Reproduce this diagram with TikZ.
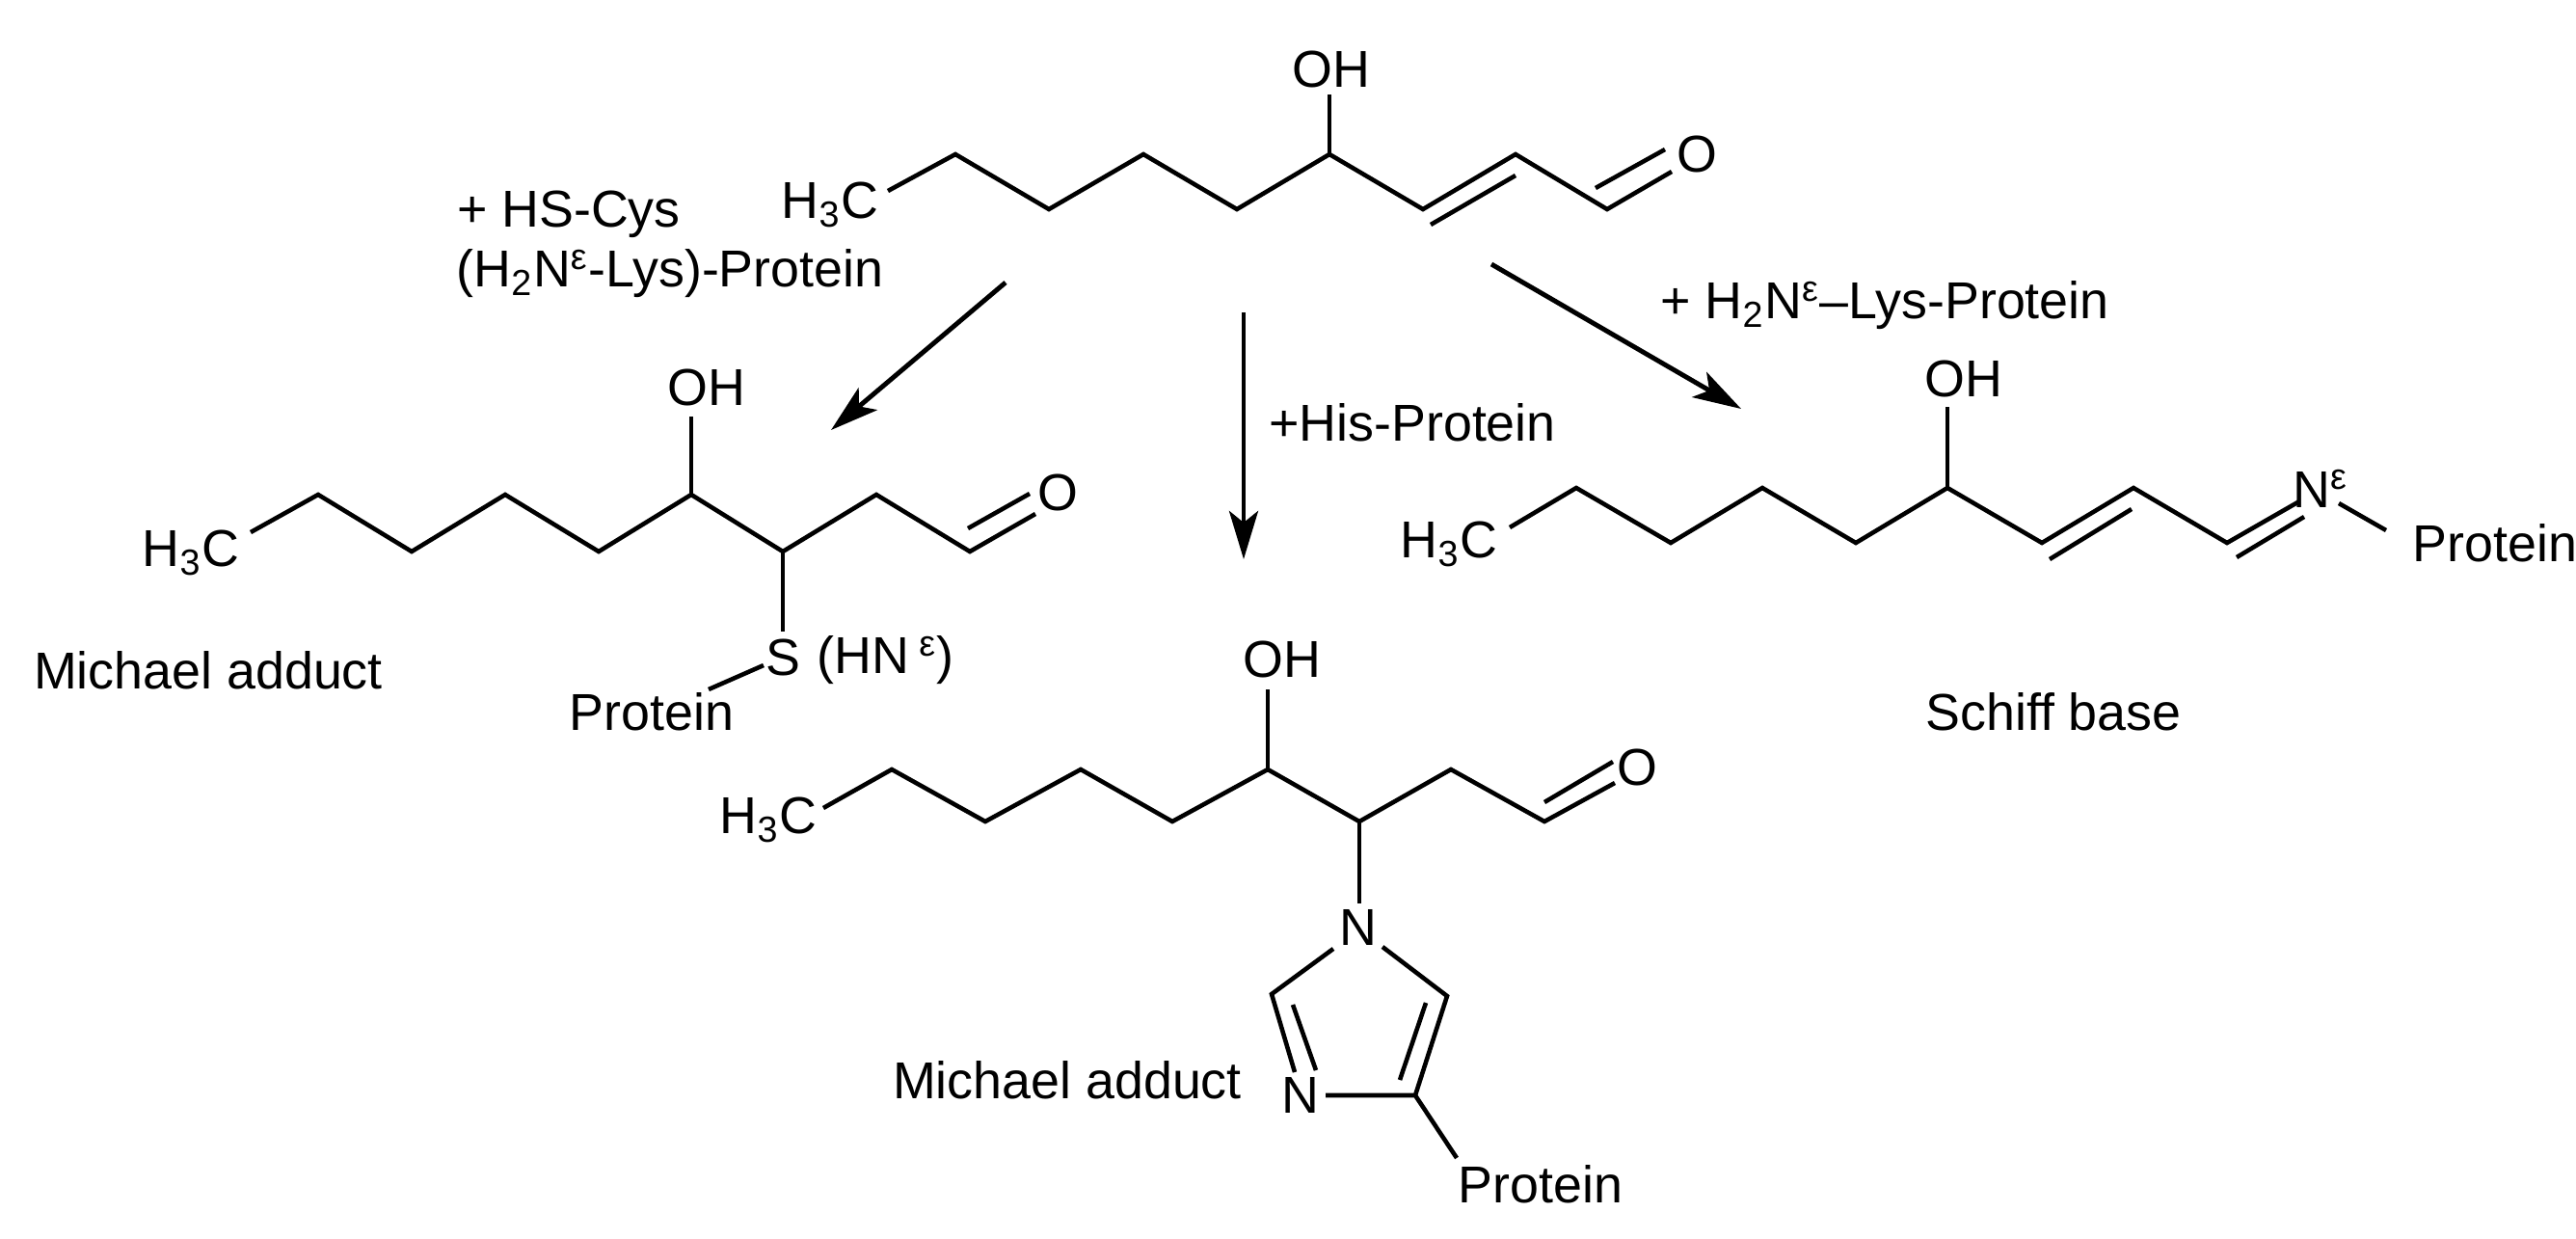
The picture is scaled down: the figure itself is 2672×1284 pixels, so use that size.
\documentclass[tikz,border=0pt]{standalone}
\usepackage{fontspec}
\setmainfont{Liberation Sans}
\usetikzlibrary{arrows.meta}
\begin{document}
\begin{tikzpicture}[x=0.01cm,y=-0.01cm,line width=1.3pt,line join=miter,
  lbl/.style={inner sep=0pt,font=\fontsize{15.3}{18}\selectfont},
  rxn/.style={line width=1.4pt,-{Stealth[length=0.5cm,width=0.3cm,inset=0.12cm]}}]
\useasboundingbox (0,0) rectangle (2672,1284);
% ===== top molecule (HNE)
\node[lbl] (t3) at (861,212) {H\textsubscript{3}C};
\node[lbl] (tOH) at (1381,72) {OH};
\node[lbl] (tO) at (1760,160) {O};
\draw (921,198) -- (991,160) -- (1088,217) -- (1186,160) -- (1283,217) -- (1379,160) -- (1476,217) -- (1572,160) -- (1667,217) -- (1734,178);
\draw (1379,160) -- (1379,98);
\draw (1572,182) -- (1484,233);
\draw (1655,195) -- (1727,155);
% ===== left product
\node[lbl] (l3) at (198,573) {H\textsubscript{3}C};
\node[lbl] (lOH) at (733,402) {OH};
\node[lbl] (lO) at (1097,511) {O};
\node[lbl] (lS) at (812,682) {S};
\node[lbl,anchor=west] (lHN) at (845,685) {(HN\textsuperscript{ ε})};
\node[lbl] (lP) at (676,738) {Protein};
\draw (260,552) -- (330,513) -- (427,572) -- (524,513) -- (621,572) -- (717,513) -- (812,572) -- (909,513) -- (1006,572) -- (1074,533);
\draw (1004,548) -- (1068,512);
\draw (717,513) -- (717,432);
\draw (812,572) -- (812,655);
\draw (735,715) -- (792,690);
\node[lbl] (lM) at (216,695) {Michael adduct};
% ===== middle product
\node[lbl] (m3) at (797,850) {H\textsubscript{3}C};
\node[lbl] (mOH) at (1330,684) {OH};
\node[lbl] (mO) at (1698,796) {O};
\draw (854,838) -- (925,798) -- (1022,852) -- (1121,798) -- (1216,852) -- (1315,798) -- (1410,852) -- (1505,798) -- (1602,852) -- (1675,812);
\draw (1602,832) -- (1673,790);
\draw (1315,798) -- (1315,715);
\draw (1410,852) -- (1410,937);
\node[lbl] (mN1) at (1409,962) {N};
\node[lbl] (mN3) at (1349,1136) {N};
\draw (1434,982) -- (1501,1033) -- (1468,1136) -- (1375,1136);
\draw (1479,1040) -- (1452,1120);
\draw (1343,1112) -- (1319,1031) -- (1383,984);
\draw (1341,1042) -- (1365,1110);
\draw (1468,1136) -- (1511,1201);
\node[lbl] (mP) at (1598,1228) {Protein};
\node[lbl] (mM) at (1107,1120) {Michael adduct};
% ===== right product
\node[lbl] (r3) at (1503,564) {H\textsubscript{3}C};
\node[lbl] (rOH) at (2037,393) {OH};
\node[lbl] (rN) at (2407,507) {N\textsuperscript{ε}};
\node[lbl] (rP) at (2588,563) {Protein};
\draw (1566,547) -- (1635,506) -- (1733,563) -- (1828,506) -- (1925,563) -- (2020,506) -- (2118,563) -- (2213,506) -- (2310,563) -- (2385,520);
\draw (2020,506) -- (2020,422);
\draw (2211,528) -- (2126,580);
\draw (2390,536) -- (2320,578);
\draw (2426,522) -- (2475,550);
\node[lbl] (rS) at (2130,738) {Schiff base};
% ===== arrows and reagents
\coordinate (a1s) at (1043,293); \coordinate (a1e) at (862,446);
\coordinate (a2s) at (1290,324); \coordinate (a2e) at (1290,580);
\coordinate (a3s) at (1547,274); \coordinate (a3e) at (1806,424);
\draw[rxn] (a1s) -- (a1e);
\draw[rxn] (a2s) -- (a2e);
\draw[rxn] (a3s) -- (a3e);
\node[lbl] (r1) at (590,222) {+ HS-Cys};
\node[lbl] (r1b) at (695,284) {(H\textsubscript{2}N\textsuperscript{ε}-Lys)-Protein};
\node[lbl] (r2) at (1465,438) {+His-Protein};
\node[lbl] (r3l) at (1955,317) {+ H\textsubscript{2}N\textsuperscript{ε}–Lys-Protein};
\end{tikzpicture}
\end{document}
